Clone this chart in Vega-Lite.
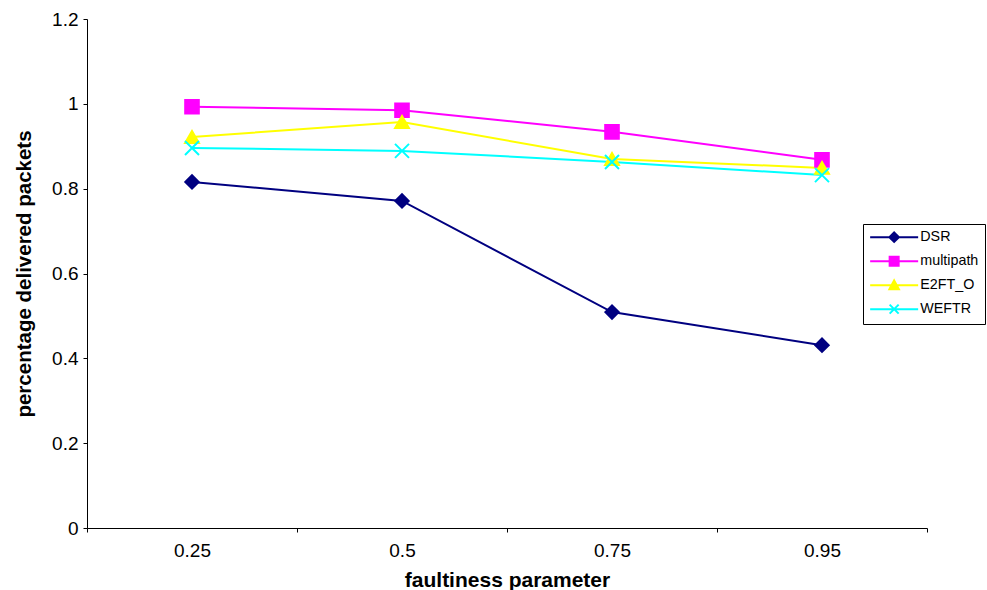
{
  "$schema": "https://vega.github.io/schema/vega-lite/v6.json",
  "autosize": {"type": "none"},
  "padding": {"left": 87, "top": 19, "right": 60, "bottom": 62},
  "width": 840,
  "height": 509,
  "background": "white",
  "config": {
    "view": {"stroke": null},
    "font": "Liberation Sans",
    "axis": {
      "domainColor": "black",
      "tickColor": "black",
      "labelColor": "black",
      "titleColor": "black",
      "grid": false,
      "labelFont": "Liberation Sans",
      "titleFont": "Liberation Sans",
      "labelFontSize": 19,
      "titleFontSize": 20.5,
      "titleFontWeight": "bold",
      "tickSize": 4,
      "domainWidth": 1,
      "tickWidth": 1
    },
    "legend": {
      "title": null,
      "orient": "none",
      "legendX": 776,
      "legendY": 205,
      "strokeColor": "black",
      "padding": 6,
      "symbolSize": 144,
      "symbolOffset": 18,
      "symbolStrokeWidth": 2,
      "symbolOpacity": 1,
      "rowPadding": 6,
      "labelFontSize": 14.3,
      "labelFont": "Liberation Sans",
      "labelColor": "black",
      "labelOffset": 19
    }
  },
  "data": {
    "values": [
      {"param": "0.25", "series": "DSR", "value": 0.816},
      {"param": "0.5", "series": "DSR", "value": 0.771},
      {"param": "0.75", "series": "DSR", "value": 0.509},
      {"param": "0.95", "series": "DSR", "value": 0.431},
      {"param": "0.25", "series": "multipath", "value": 0.993},
      {"param": "0.5", "series": "multipath", "value": 0.985},
      {"param": "0.75", "series": "multipath", "value": 0.934},
      {"param": "0.95", "series": "multipath", "value": 0.868},
      {"param": "0.25", "series": "E2FT_O", "value": 0.922},
      {"param": "0.5", "series": "E2FT_O", "value": 0.957},
      {"param": "0.75", "series": "E2FT_O", "value": 0.870},
      {"param": "0.95", "series": "E2FT_O", "value": 0.849},
      {"param": "0.25", "series": "WEFTR", "value": 0.896},
      {"param": "0.5", "series": "WEFTR", "value": 0.889},
      {"param": "0.75", "series": "WEFTR", "value": 0.863},
      {"param": "0.95", "series": "WEFTR", "value": 0.832}
    ]
  },
  "encoding": {
    "x": {
      "field": "param",
      "type": "ordinal",
      "sort": ["0.25", "0.5", "0.75", "0.95"],
      "scale": {"type": "band", "paddingInner": 0, "paddingOuter": 0},
      "axis": {
        "title": "faultiness parameter",
        "labelAngle": 0,
        "tickBand": "extent",
        "labelPadding": 9,
        "titlePadding": 9,
        "titleFontSize": 21
      }
    },
    "y": {
      "field": "value",
      "type": "quantitative",
      "scale": {"domain": [0, 1.2], "nice": false},
      "axis": {
        "title": "percentage delivered packets",
        "values": [0, 0.2, 0.4, 0.6, 0.8, 1, 1.2],
        "format": ".1~f",
        "labelPadding": 5,
        "titlePadding": 17
      }
    }
  },
  "layer": [
    {
      "mark": {"type": "line", "strokeWidth": 2},
      "encoding": {
        "color": {
          "field": "series",
          "type": "nominal",
          "scale": {
            "domain": ["DSR", "multipath", "E2FT_O", "WEFTR"],
            "range": ["#000080", "#FF00FF", "#FFFF00", "#00FFFF"]
          },
          "legend": null
        }
      }
    },
    {
      "mark": {"type": "point", "filled": true, "strokeWidth": 2, "opacity": 1},
      "encoding": {
        "color": {
          "field": "series",
          "type": "nominal",
          "scale": {
            "domain": ["DSR", "multipath", "E2FT_O", "WEFTR"],
            "range": ["#000080", "#FF00FF", "#FFFF00", "#00FFFF"]
          },
          "legend": null
        },
        "shape": {
          "field": "series",
          "type": "nominal",
          "scale": {
            "domain": ["DSR", "multipath", "E2FT_O", "WEFTR"],
            "range": ["diamond", "square", "triangle-up", "M-1,-1L1,1M-1,1L1,-1"]
          },
          "legend": null
        },
        "size": {
          "field": "series",
          "type": "nominal",
          "scale": {
            "domain": ["DSR", "multipath", "E2FT_O", "WEFTR"],
            "range": [180, 196, 170, 150]
          },
          "legend": null
        },
        "stroke": {"field": "series", "type": "nominal", "scale": {"domain": ["DSR", "multipath", "E2FT_O", "WEFTR"], "range": ["#000080", "#FF00FF", "#FFFF00", "#00FFFF"]}, "legend": null}
      }
    },
    {
      "mark": {"type": "point", "filled": true, "opacity": 0, "size": 144, "strokeWidth": 2},
      "encoding": {
        "fill": {
          "field": "series",
          "type": "nominal",
          "scale": {
            "domain": ["DSR", "multipath", "E2FT_O", "WEFTR"],
            "range": ["#000080", "#FF00FF", "#FFFF00", "#00FFFF"]
          }
        },
        "stroke": {
          "field": "series",
          "type": "nominal",
          "scale": {
            "domain": ["DSR", "multipath", "E2FT_O", "WEFTR"],
            "range": ["#000080", "#FF00FF", "#FFFF00", "#00FFFF"]
          }
        },
        "shape": {
          "field": "series",
          "type": "nominal",
          "scale": {
            "domain": ["DSR", "multipath", "E2FT_O", "WEFTR"],
            "range": [
              "M-4,0H4M0,-0.8L0.8,0L0,0.8L-0.8,0Z",
              "M-4,0H4M-0.75,-0.75H0.75V0.75H-0.75Z",
              "M-4,0H4M0,-0.8L0.8,0.7H-0.8Z",
              "M-4,0H4M-0.75,-0.75L0.75,0.75M-0.75,0.75L0.75,-0.75"
            ]
          }
        }
      }
    }
  ],
  "resolve": {
    "scale": {"shape": "independent", "size": "independent", "stroke": "independent", "fill": "independent"},
    "legend": {"shape": "independent", "stroke": "independent", "fill": "independent"}
  }
}
